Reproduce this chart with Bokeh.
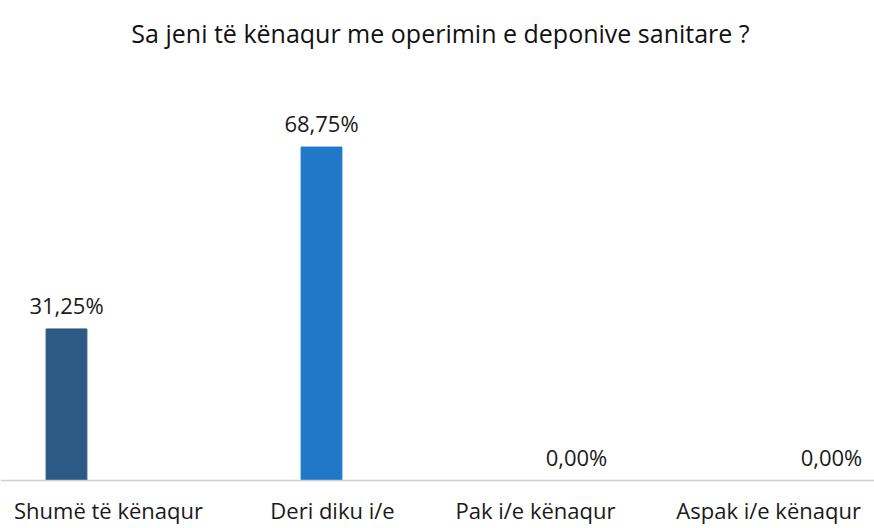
from bokeh.plotting import figure
from bokeh.models import ColumnDataSource, LabelSet, Label, Range1d, Span
from bokeh.core.properties import value
from bokeh.embed import file_html
from bokeh.resources import INLINE

categories = ["Shumë të kënaqur", "Deri diku i/e", "Pak i/e kënaqur", "Aspak  i/e kënaqur"]
values = [31.25, 68.75, 0.0, 0.0]
value_labels = ["31,25%", "68,75%", "0,00%", "0,00%"]
colors = ["#2C5985", "#1F78C8", "#1F78C8", "#1F78C8"]
label_shift = [42, 11, -41, -60]
title_text = "Sa jeni të kënaqur me operimin e deponive sanitare ?"

FONT_NAME = "Open Sans"
FONT = value(FONT_NAME)
xs = list(range(len(categories)))
src = ColumnDataSource(dict(x=xs, top=values, vl=value_labels, cat=categories,
                            color=colors, zero=[0] * len(xs), shift=label_shift))

W, H = 874, 528
p = figure(width=W, height=H, output_backend="svg", toolbar_location=None,
           x_range=Range1d(-0.2588, 3.1686), y_range=Range1d(-9.897, 98.97),
           min_border=0)
p.title.visible = False
p.outline_line_color = None
p.xgrid.grid_line_color = None
p.ygrid.grid_line_color = None
p.xaxis.visible = False
p.yaxis.visible = False

p.add_layout(Span(location=0, dimension="width", line_color="#D0D0D0", line_width=1.5))

p.vbar(x="x", top="top", bottom=0, width=0.16, color="color", source=src)

p.add_layout(LabelSet(x="x", y="top", text="vl", source=src, text_align="center",
                      text_baseline="alphabetic", y_offset=15, text_font=FONT,
                      text_font_size="22px", text_color="#1A1A1A"))
p.add_layout(LabelSet(x="x", y="zero", text="cat", source=src, text_align="center",
                      text_baseline="alphabetic", y_offset=-38, x_offset="shift",
                      text_font=FONT, text_font_size="22px", text_color="#1A1A1A"))

p.add_layout(Label(x=440, y=H - 32, x_units="screen", y_units="screen",
                   text=title_text, text_align="center", text_baseline="alphabetic",
                   text_font=FONT_NAME, text_font_size="25px", text_color="#111111"))

open("out.html", "w").write(file_html(p, INLINE))
